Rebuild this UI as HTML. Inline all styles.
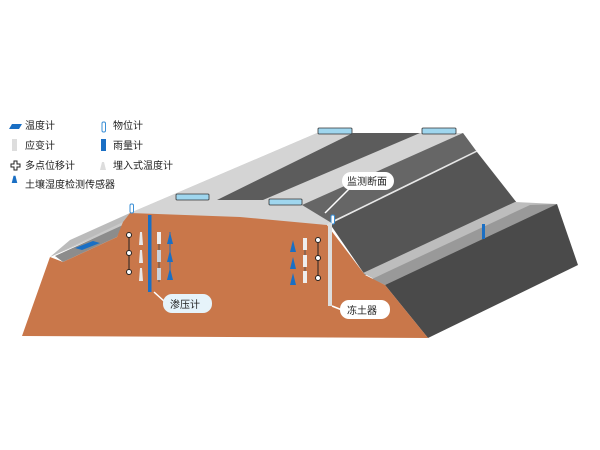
<!DOCTYPE html>
<html><head><meta charset="utf-8"><style>
body{margin:0;background:#fff;}
svg{display:block}
text{font-family:"Liberation Sans","Noto Sans CJK SC",sans-serif;font-size:10px;fill:#222}
</style></head><body>
<svg width="600" height="450" viewBox="0 0 600 450" xmlns="http://www.w3.org/2000/svg">
<rect width="600" height="450" fill="#fff"/>
<polygon points="50,257 130,213 317,133 237,177" fill="#c9c9c9"/>
<polygon points="130,213 317,133 463,133 477,152 327,225" fill="#d4d4d4"/>
<polygon points="217,200 353,133 420,133 263,200" fill="#5c5c5c"/>
<polygon points="302,205 463,133 477,152 330,222" fill="#666"/>
<line x1="330" y1="223" x2="477" y2="151" stroke="#e8e8e8" stroke-width="1.5"/>
<polygon points="330,224 477,152 517,203 365,275" fill="#555"/>
<polygon points="363,273 515,202 557,204 385,285" fill="#bdbdbd"/>
<polygon points="372,279 530,205 557,204 385,285" fill="#999"/>
<polygon points="385,285 557,204 578,265 428,338" fill="#4a4a4a"/>
<polygon points="50,257 123,222 130,213 70,240" fill="#bbb"/>
<polygon points="63,262 117,237 123,225 55,256" fill="#8c8c8c"/>
<polygon points="75,248 93,241 100,243 82,250" fill="#1a6fc4"/>
<polygon points="50,257 63,262 117,237 123,222 130,213 240,217 327,225 365,275 385,285 428,338 22,336" fill="#c9774a"/>
<g fill="#9fd6ee" stroke="#333" stroke-width="0.8">
<rect x="176" y="194" width="33" height="6" rx="1"/>
<rect x="269" y="199" width="33" height="6" rx="1"/>
<rect x="318" y="128" width="34" height="6" rx="1"/>
<rect x="422" y="128" width="34" height="6" rx="1"/>
</g>
<rect x="130" y="204" width="3.5" height="9" rx="1.5" fill="#fff" stroke="#3a8fd6" stroke-width="1"/>
<rect x="331" y="215" width="3.5" height="9" rx="1.5" fill="#fff" stroke="#3a8fd6" stroke-width="1"/>
<rect x="482" y="224" width="3" height="15" fill="#1a6fc4"/>
<rect x="148" y="215" width="3.5" height="77" fill="#1a6fc4"/>
<line x1="129" y1="235" x2="129" y2="272" stroke="#222" stroke-width="1"/>
<g fill="#fff" stroke="#222" stroke-width="1">
<circle cx="129" cy="235" r="2.5"/><circle cx="129" cy="253" r="2.5"/><circle cx="129" cy="272" r="2.5"/>
</g>
<g fill="#e8e8e8">
<polygon points="139,245 143,245 142,232 140,232"/><polygon points="139,263 143,263 142,250 140,250"/><polygon points="139,281 143,281 142,268 140,268"/>
</g>
<line x1="159" y1="232" x2="159" y2="282" stroke="#555" stroke-width="1"/>
<rect x="157" y="232" width="4" height="12" fill="#eee"/><rect x="157" y="250" width="4" height="12" fill="#c8d2dc"/><rect x="157" y="268" width="4" height="12" fill="#c8d2dc"/>
<g fill="#1a6fc4">
<polygon points="170,232 173,244 167,244"/><polygon points="170,250 173,262 167,262"/><polygon points="170,268 173,280 167,280"/>
<line x1="170" y1="232" x2="170" y2="280" stroke="#1a6fc4"/>
</g>
<g fill="#1a6fc4">
<polygon points="293,240 296,252 290,252"/><polygon points="293,257 296,269 290,269"/><polygon points="293,273 296,285 290,285"/>
</g>
<line x1="305" y1="238" x2="305" y2="283" stroke="#555"/>
<rect x="303" y="238" width="4" height="12" fill="#eee"/><rect x="303" y="255" width="4" height="12" fill="#eee"/><rect x="303" y="271" width="4" height="12" fill="#eee"/>
<line x1="318" y1="240" x2="318" y2="278" stroke="#222"/>
<g fill="#fff" stroke="#222"><circle cx="318" cy="240" r="2.5"/><circle cx="318" cy="258" r="2.5"/><circle cx="318" cy="278" r="2.5"/></g>
<rect x="328" y="223" width="4" height="83" fill="#ddd"/>
<polyline points="154,292 165,302" stroke="#fff" stroke-width="1.5" fill="none"/>
<rect x="163" y="294" width="49" height="19" rx="9" fill="#e6f3fa"/>
<text x="170" y="308" font-size="11">渗压计</text>
<polyline points="332,306 342,310" stroke="#fff" stroke-width="1.5" fill="none"/>
<rect x="340" y="300" width="50" height="19" rx="9" fill="#fff"/>
<text x="347" y="314" font-size="11">冻土器</text>
<polyline points="325,213 350,188" stroke="#fff" stroke-width="1.5" fill="none"/>
<rect x="342" y="172" width="52" height="18" rx="9" fill="#fff"/>
<text x="347" y="185" font-size="11">监测断面</text>
<polygon points="9,129 12,124 22,124 19,129" fill="#1a6fc4"/>
<text x="25" y="129">温度计</text>
<rect x="12" y="139" width="5" height="12" fill="#ddd"/>
<text x="25" y="149">应变计</text>
<path d="M11,164 h3 v-3 h3 v3 h3 v3 h-3 v3 h-3 v-3 h-3z" fill="#fff" stroke="#222"/>
<text x="25" y="169">多点位移计</text>
<polygon points="13,182 16,182 14.5,176" fill="#1a6fc4" stroke="#1a6fc4" stroke-width="2"/>
<text x="25" y="188">土壤湿度检测传感器</text>
<rect x="102" y="122" width="3.5" height="10" rx="1.5" fill="#fff" stroke="#3a8fd6"/>
<text x="113" y="129">物位计</text>
<rect x="101" y="139" width="5" height="12" fill="#1a6fc4"/>
<text x="113" y="149">雨量计</text>
<polygon points="100,170 106,170 104,162 102,162" fill="#ddd"/>
<text x="113" y="169">埋入式温度计</text>
</svg>
</body></html>
